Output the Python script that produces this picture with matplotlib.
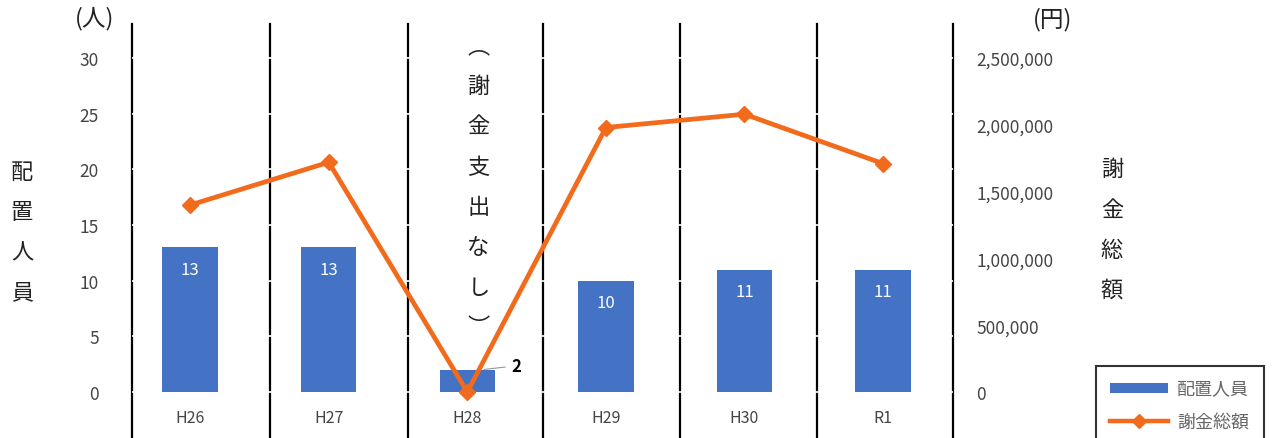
import matplotlib
matplotlib.use("Agg")
import matplotlib.pyplot as plt
from matplotlib.patches import Patch
from matplotlib.lines import Line2D
from matplotlib.ticker import FuncFormatter

plt.rcParams['font.family'] = ['Noto Sans CJK JP', 'DejaVu Sans']

# data
years = ["H26", "H27", "H28", "H29", "H30", "R1"]
staff = [13, 13, 2, 10, 11, 11]
fees = [1400000, 1720000, 0, 1980000, 2080000, 1710000]

bar_color = "#4472C4"
line_color = "#F26A1B"
text_gray = "#444444"

fig = plt.figure(figsize=(12.74, 4.39), dpi=100)
ax = fig.add_axes([132 / 1274, 0.0, (953 - 132) / 1274, 1 - 25 / 439])

x = list(range(len(years)))
ymin, ymax = -4.13, 33.06
ax.set_xlim(-0.42, 5.505)
ax.set_ylim(ymin, ymax)

# vertical separators (spines replaced by lines so the white grid can cut them)
for sx in [-0.42, 0.575, 1.57, 2.545, 3.535, 4.52, 5.505]:
    ax.axvline(sx, color="black", lw=1.6, zorder=0.5, clip_on=False)
for sp in ax.spines.values():
    sp.set_visible(False)
for gy in range(0, 35, 5):
    ax.axhline(gy, color="white", lw=1.2, zorder=0.8)

bars = ax.bar(x, staff, width=0.40, color=bar_color, zorder=2)

# bar value labels
for xi, v in zip(x, staff):
    if v >= 5:
        ax.text(xi, v - 2.0, str(v), ha="center", va="center", color="white",
                fontsize=12, zorder=3)
    else:
        ax.annotate(str(v), xy=(xi + 0.1, v), xytext=(xi + 0.35, v + 0.35),
                    ha="center", va="center", fontsize=12, fontweight="bold",
                    color="black",
                    arrowprops=dict(arrowstyle="-", color="#999999", lw=0.8))

# category labels under the bars
for xi, name in zip(x, years):
    ax.text(xi, -2.25, name, ha="center", va="center", fontsize=11.5,
            color=text_gray)

ax.set_xticks([])
ax.set_yticks(range(0, 35, 5))
ax.tick_params(axis="y", length=0, pad=24, labelsize=12.5, labelcolor=text_gray)

# right axis for the fee line
ax2 = ax.twinx()
scale = 2500000 / 30
ax2.set_ylim(ymin * scale, ymax * scale)
ax2.plot(x, fees, color=line_color, lw=3.4, marker="D", markersize=8,
         zorder=5)
ax2.set_yticks(range(0, 2500001, 500000))
ax2.yaxis.set_major_formatter(FuncFormatter(lambda v, p: f"{int(v):,}"))
ax2.tick_params(axis="y", length=0, pad=17, labelsize=12.5, labelcolor=text_gray)
for sp in ax2.spines.values():
    sp.set_visible(False)

# note for H28
ax.text(2.08, 18.5, "\n".join("︵謝金支出なし︶"), ha="center", va="center",
        fontsize=16, linespacing=1.95, color="#222222")

# axis titles, written vertically
fig.text(22 / 1274, 1 - 233 / 439, "\n".join("配置人員"), ha="center",
         va="center", fontsize=16, linespacing=1.95, color="#222222")
fig.text(1112 / 1274, 1 - 230 / 439, "\n".join("謝金総額"), ha="center",
         va="center", fontsize=16, linespacing=1.95, color="#222222")
fig.text(95 / 1274, 1 - 19 / 439, "(人)", ha="center", va="center",
         fontsize=17, color="#222222")
fig.text(1053 / 1274, 1 - 20 / 439, "(円)", ha="center", va="center",
         fontsize=17, color="#222222")

handles = [Patch(facecolor=bar_color, edgecolor="none"),
           Line2D([0], [0], color=line_color, lw=3.2, marker="D", markersize=7)]
leg = fig.legend(handles, ["配置人員", "謝金総額"], loc="upper left",
                 bbox_to_anchor=(1087 / 1274, 1 - 358 / 439), frameon=True,
                 fancybox=False, edgecolor="black", fontsize=13,
                 handlelength=3.2, handleheight=0.5, labelspacing=0.8,
                 borderpad=0.8, handletextpad=0.5, labelcolor="#666666")
leg.get_frame().set_linewidth(1.5)

fig.savefig("out.png", dpi=100)
